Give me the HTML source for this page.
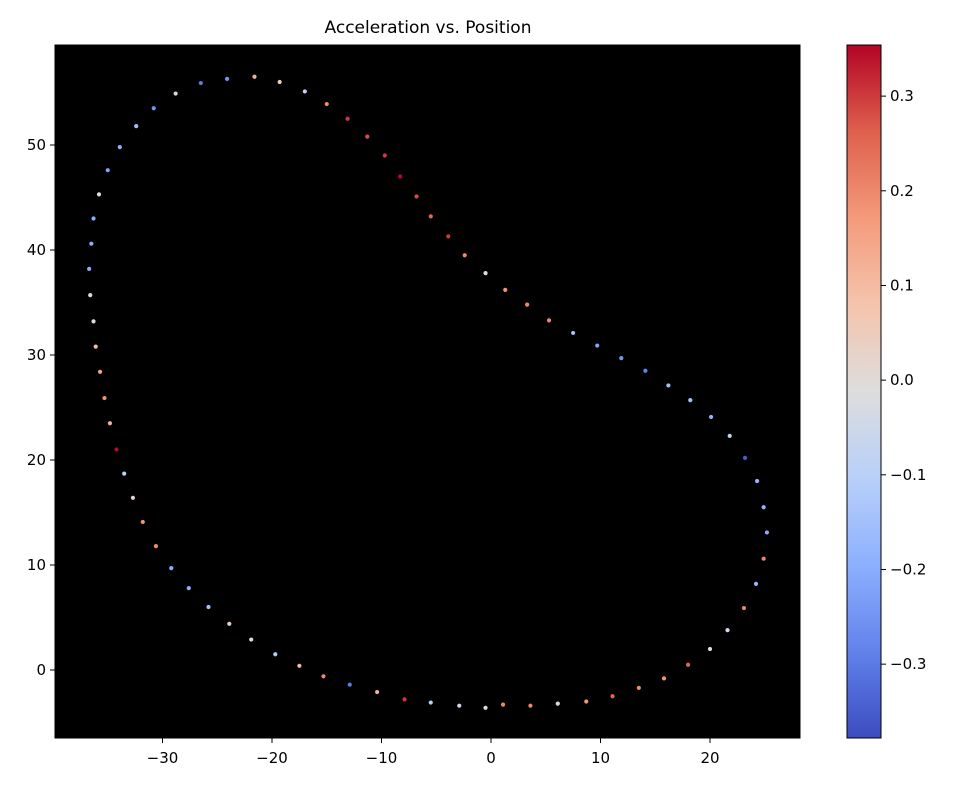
<!DOCTYPE html>
<html><head><meta charset="utf-8"><style>
body{margin:0;background:#fff;font-family:"Liberation Sans","DejaVu Sans",sans-serif;}
svg text{font-family:"DejaVu Sans","Liberation Sans",sans-serif;}
</style></head><body>
<svg id="chart" width="961" height="789" xmlns="http://www.w3.org/2000/svg">
<text x="428" y="33" font-size="17" text-anchor="middle">Acceleration vs. Position</text>
<rect x="55" y="45" width="745" height="693" fill="#000"/>
<g id="points"></g>
<g id="xaxis"></g>
<g id="yaxis"></g>
<defs><linearGradient id="cm" x1="0" y1="1" x2="0" y2="0"></linearGradient></defs>
<rect x="847" y="45" width="34" height="693" fill="url(#cm)" stroke="#000" stroke-width="1"/>
<g id="cbaxis"></g>
</svg>
<script>
const xs=[-21.6,-19.3,-17.0,-15.0,-13.1,-11.3,-9.7,-8.3,-6.8,-5.5,-3.9,-2.4,-0.5,1.3,3.3,5.3,7.5,9.7,11.9,14.1,16.2,18.2,20.1,21.8,23.2,24.3,24.9,25.2,24.9,24.2,23.1,21.6,20.0,18.0,15.8,13.5,11.1,8.7,6.1,3.6,1.1,-0.5,-2.9,-5.5,-7.9,-10.4,-12.9,-15.3,-17.5,-19.7,-21.9,-23.9,-25.8,-27.6,-29.2,-30.6,-31.8,-32.7,-33.5,-34.2,-34.8,-35.3,-35.7,-36.1,-36.3,-36.6,-36.7,-36.5,-36.3,-35.8,-35.0,-33.9,-32.4,-30.8,-28.8,-26.5,-24.1];
const ys=[56.5,56.0,55.1,53.9,52.5,50.8,49.0,47.0,45.1,43.2,41.3,39.5,37.8,36.2,34.8,33.3,32.1,30.9,29.7,28.5,27.1,25.7,24.1,22.3,20.2,18.0,15.5,13.1,10.6,8.2,5.9,3.8,2.0,0.5,-0.8,-1.7,-2.5,-3.0,-3.2,-3.4,-3.3,-3.6,-3.4,-3.1,-2.8,-2.1,-1.4,-0.6,0.4,1.5,2.9,4.4,6.0,7.8,9.7,11.8,14.1,16.4,18.7,21.0,23.5,25.9,28.4,30.8,33.2,35.7,38.2,40.6,43.0,45.3,47.6,49.8,51.8,53.5,54.9,55.9,56.3];
const accel=[0.12,0.05,-0.08,0.2,0.3,0.28,0.3,0.35,0.28,0.25,0.3,0.2,0.0,0.18,0.2,0.2,-0.15,-0.22,-0.25,-0.28,-0.15,-0.15,-0.18,-0.08,-0.35,-0.18,-0.18,-0.2,0.2,-0.18,0.2,-0.05,0.0,0.25,0.18,0.2,0.25,0.18,0.02,0.2,0.2,0.0,-0.05,-0.1,0.3,0.12,-0.3,0.2,0.1,-0.12,0.0,0.05,-0.15,-0.2,-0.2,0.2,0.18,0.02,-0.1,0.35,0.12,0.18,0.15,0.1,0.0,0.0,-0.2,-0.2,-0.2,0.0,-0.22,-0.2,-0.15,-0.25,-0.05,-0.3,-0.25];
const xTicks=[-30,-20,-10,0,10,20];
const yTicks=[0,10,20,30,40,50];
const cTicks=[-0.3,-0.2,-0.1,0.0,0.1,0.2,0.3];
const cMin=-0.378,cMax=0.354;
const NS="http://www.w3.org/2000/svg";
const X=v=>491+v*10.95, Y=v=>670-v*10.5, C=v=>738-(v-cMin)/(cMax-cMin)*693;
const stops=[[59,76,192],[98,130,234],[141,176,254],[184,208,249],[221,221,221],[245,196,173],[244,154,123],[222,96,77],[180,4,38]];
function cw(t){t=Math.max(0,Math.min(1,t));const f=t*8,i=Math.min(7,Math.floor(f)),r=f-i;const a=stops[i],b=stops[i+1];return `rgb(${a.map((c,k)=>Math.round(c+(b[k]-c)*r)).join(',')})`;}
function el(t,a,p){const e=document.createElementNS(NS,t);for(const k in a)e.setAttribute(k,a[k]);p.appendChild(e);return e;}
const grad=document.getElementById('cm');
stops.forEach((s,i)=>el('stop',{offset:(i/8),'stop-color':`rgb(${s})`},grad));
const pg=document.getElementById('points');
xs.forEach((x,i)=>{const c=el('circle',{cx:X(x),cy:Y(ys[i]),r:2.1,fill:cw((accel[i]-cMin)/(cMax-cMin))},pg);

});
const fmt=v=>(v<0?'\u2212':'')+Math.abs(v);
const xa=document.getElementById('xaxis');
el('rect',{x:55,y:45,width:745,height:693,fill:'none',stroke:'#000','stroke-width':1},xa);
xTicks.forEach(v=>{el('line',{x1:X(v),x2:X(v),y1:738,y2:743,stroke:'#000'},xa);const t=el('text',{x:X(v),y:763,'font-size':15,'text-anchor':'middle'},xa);t.textContent=fmt(v);

});
const ya=document.getElementById('yaxis');
yTicks.forEach(v=>{el('line',{x1:50,x2:55,y1:Y(v),y2:Y(v),stroke:'#000'},ya);const t=el('text',{x:46,y:Y(v)+5,'font-size':15,'text-anchor':'end'},ya);t.textContent=fmt(v);

});
const ca=document.getElementById('cbaxis');
cTicks.forEach(v=>{el('line',{x1:881,x2:886,y1:C(v),y2:C(v),stroke:'#000'},ca);const t=el('text',{x:890,y:C(v)+5,'font-size':15},ca);t.textContent=(v<0?'\u2212':'')+Math.abs(v).toFixed(1);

});
</script>
</body></html>
